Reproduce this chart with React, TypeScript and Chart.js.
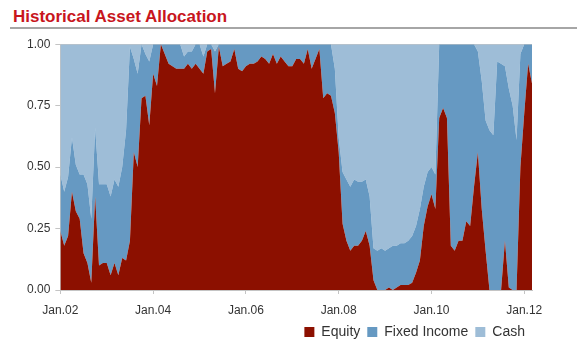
import React, { useEffect, useRef } from "react";
import { Chart, registerables } from "chart.js";

Chart.register(...registerables);

// Monthly allocation, Jan 2002 .. Mar 2012
const startYear = 2002;
const equity = [
  0.24, 0.18, 0.22, 0.40, 0.32, 0.29, 0.15, 0.11, 0.03, 0.38, 0.10, 0.11,
  0.11, 0.06, 0.11, 0.06, 0.13, 0.12, 0.20, 0.56, 0.50, 0.78, 0.79, 0.67,
  0.88, 0.83, 1.00, 0.96, 0.92, 0.91, 0.90, 0.90, 0.90, 0.92, 0.90, 0.92,
  0.90, 0.88, 0.97, 0.98, 0.80, 0.99, 0.91, 0.92, 0.93, 0.98, 0.90, 0.89,
  0.91, 0.92, 0.92, 0.93, 0.95, 0.94, 0.92, 0.96, 0.92, 0.95, 0.93, 0.91,
  0.91, 0.94, 0.94, 0.92, 0.98, 0.90, 0.94, 0.98, 0.78, 0.80, 0.79, 0.72,
  0.56, 0.27, 0.20, 0.16, 0.18, 0.18, 0.20, 0.24, 0.18, 0.04, 0.00, 0.00,
  0.00, 0.01, 0.00, 0.01, 0.02, 0.02, 0.02, 0.03, 0.07, 0.12, 0.26, 0.34,
  0.39, 0.33, 0.70, 0.74, 0.70, 0.18, 0.16, 0.20, 0.20, 0.28, 0.26, 0.42,
  0.56, 0.33, 0.16, 0.00, 0.00, 0.00, 0.00, 0.20, 0.01, 0.00, 0.00, 0.50,
  0.72, 0.92, 0.84,
];
const fixedIncome = [
  0.23, 0.22, 0.24, 0.22, 0.19, 0.18, 0.32, 0.32, 0.26, 0.28, 0.33, 0.32,
  0.32, 0.32, 0.34, 0.36, 0.37, 0.53, 0.79, 0.38, 0.38, 0.22, 0.17, 0.26,
  0.12, 0.17, 0.00, 0.04, 0.08, 0.09, 0.10, 0.10, 0.05, 0.05, 0.07, 0.08,
  0.10, 0.07, 0.03, 0.02, 0.17, 0.01, 0.09, 0.08, 0.07, 0.02, 0.10, 0.11,
  0.09, 0.08, 0.08, 0.07, 0.05, 0.06, 0.08, 0.04, 0.08, 0.05, 0.07, 0.09,
  0.09, 0.06, 0.06, 0.08, 0.02, 0.10, 0.06, 0.02, 0.22, 0.20, 0.21, 0.18,
  0.06, 0.21, 0.25, 0.26, 0.27, 0.26, 0.24, 0.21, 0.20, 0.13, 0.16, 0.17,
  0.16, 0.16, 0.18, 0.17, 0.17, 0.17, 0.18, 0.19, 0.19, 0.21, 0.16, 0.14,
  0.11, 0.14, 0.30, 0.26, 0.30, 0.82, 0.84, 0.80, 0.80, 0.72, 0.74, 0.58,
  0.41, 0.52, 0.53, 0.65, 0.63, 0.93, 0.92, 0.71, 0.81, 0.75, 0.61, 0.46,
  0.28, 0.08, 0.16,
];
const cash = [
  0.53, 0.60, 0.54, 0.38, 0.49, 0.53, 0.53, 0.57, 0.71, 0.34, 0.57, 0.57,
  0.57, 0.62, 0.55, 0.58, 0.50, 0.35, 0.01, 0.06, 0.12, 0.00, 0.04, 0.07,
  0.00, 0.00, 0.00, 0.00, 0.00, 0.00, 0.00, 0.00, 0.05, 0.03, 0.03, 0.00,
  0.00, 0.05, 0.00, 0.00, 0.03, 0.00, 0.00, 0.00, 0.00, 0.00, 0.00, 0.00,
  0.00, 0.00, 0.00, 0.00, 0.00, 0.00, 0.00, 0.00, 0.00, 0.00, 0.00, 0.00,
  0.00, 0.00, 0.00, 0.00, 0.00, 0.00, 0.00, 0.00, 0.00, 0.00, 0.00, 0.10,
  0.38, 0.52, 0.55, 0.58, 0.55, 0.56, 0.56, 0.55, 0.62, 0.83, 0.84, 0.83,
  0.84, 0.83, 0.82, 0.82, 0.81, 0.81, 0.80, 0.78, 0.74, 0.67, 0.58, 0.52,
  0.50, 0.53, 0.00, 0.00, 0.00, 0.00, 0.00, 0.00, 0.00, 0.00, 0.00, 0.00,
  0.03, 0.15, 0.31, 0.35, 0.37, 0.07, 0.08, 0.09, 0.18, 0.25, 0.39, 0.04,
  0.00, 0.00, 0.00,
];
const seriesNames = ["Equity", "Fixed Income", "Cash"];
const seriesColors = ["#8c1000", "#6699c2", "#9ebdd7"];
const yTicks = [0, 0.25, 0.5, 0.75, 1];
const xTickStep = 24; // months between labels

const FONT = "'Liberation Sans', Arial, sans-serif";
const GRID_GRAY = "#c4c4c4";

function monthLabel(i: number): string {
  const y = startYear + Math.floor(i / 12);
  return "Jan." + String(y % 100).padStart(2, "0");
}

export default function App() {
  const ref = useRef<HTMLCanvasElement | null>(null);

  useEffect(() => {
    if (!ref.current) return;
    const all = [equity, fixedIncome, cash];
    const chart = new Chart(ref.current, {
      type: "line",
      data: {
        datasets: all.map((arr, k) => ({
          label: seriesNames[k],
          data: arr.map((v, i) => ({ x: i, y: v })),
          backgroundColor: seriesColors[k],
          borderColor: seriesColors[k],
          borderWidth: 0,
          pointRadius: 0,
          tension: 0,
          fill: k === 0 ? "origin" : "-1",
        })),
      },
      options: {
        animation: false,
        responsive: true,
        maintainAspectRatio: false,
        layout: { padding: { left: 22, right: 45, top: 0, bottom: 4 } },
        plugins: {
          title: { display: false },
          tooltip: { enabled: false },
          legend: {
            position: "bottom",
            align: "end",
            labels: {
              boxWidth: 10,
              boxHeight: 10,
              padding: 7,
              color: "#333",
              font: { family: FONT, size: 14 },
            },
          },
        },
        scales: {
          x: {
            type: "linear",
            min: 0,
            max: equity.length - 1,
            z: 1,
            afterFit: (s: any) => {
              s.height = 28;
            },
            ticks: {
              stepSize: xTickStep,
              includeBounds: false,
              autoSkip: false,
              maxRotation: 0,
              padding: 9,
              color: "#333",
              font: { family: FONT, size: 12 },
              callback: (v: any) => monthLabel(Number(v)),
            },
            grid: {
              color: (c: any) => (c.tick && c.tick.value === 0 ? GRID_GRAY : "#ffffff"),
              tickColor: GRID_GRAY,
              tickLength: 4,
              lineWidth: 1,
            },
            border: { color: GRID_GRAY },
          },
          y: {
            stacked: true,
            min: 0,
            max: 1,
            z: 1,
            afterBuildTicks: (s: any) => {
              s.ticks = yTicks.map((v) => ({ value: v }));
            },
            ticks: {
              padding: 5,
              color: "#333",
              font: { family: FONT, size: 12 },
              callback: (v: any) => Number(v).toFixed(2),
            },
            grid: {
              color: (c: any) =>
                c.tick && (c.tick.value === 1 || c.tick.value === 0) ? GRID_GRAY : "#ffffff",
              tickColor: GRID_GRAY,
              tickLength: 5,
              lineWidth: 1,
            },
            border: { color: GRID_GRAY },
          },
        },
      },
    } as any);
    return () => chart.destroy();
  }, []);

  return (
    <div
      style={{
        position: "absolute",
        left: 0,
        top: 0,
        width: 577,
        height: 353,
        background: "#fff",
        fontFamily: FONT,
      }}
    >
      <div
        style={{
          position: "absolute",
          left: 13,
          top: 7,
          fontSize: 17,
          lineHeight: "20px",
          fontWeight: "bold",
          color: "#c8161d",
          whiteSpace: "nowrap",
        }}
      >
        Historical Asset Allocation
      </div>
      <div
        style={{
          position: "absolute",
          left: 10,
          right: 0,
          top: 27,
          height: 2,
          background: "#a6a6a6",
        }}
      />
      <div style={{ position: "absolute", left: 0, top: 32, width: 577, height: 321 }}>
        <canvas ref={ref} />
      </div>
    </div>
  );
}
